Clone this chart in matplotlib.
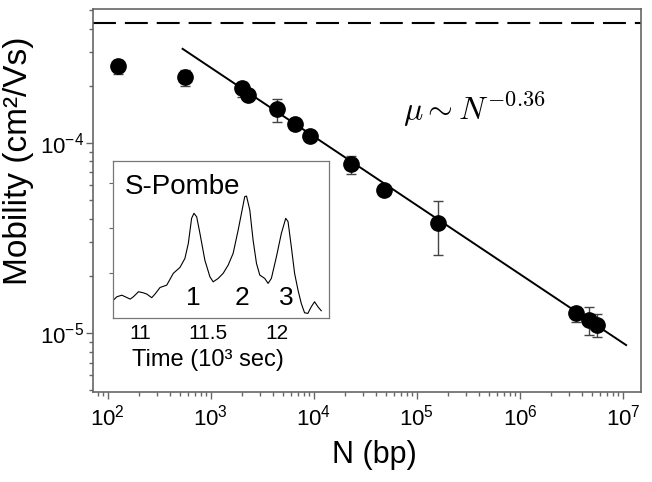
import matplotlib
matplotlib.use('Agg')
from matplotlib import pyplot as plt
from matplotlib.ticker import FixedLocator, NullFormatter, LogLocator

plt.rcParams['font.family'] = ['Liberation Sans', 'DejaVu Sans']
plt.rcParams['mathtext.fontset'] = 'custom'
plt.rcParams['mathtext.rm'] = 'Liberation Sans'
plt.rcParams['mathtext.it'] = 'Liberation Sans:italic'

# mobility data (N in bp, mobility in cm^2/Vs)
N = [125, 557, 2030, 2320, 4350, 6490, 9270, 23100, 48300, 161000, 3.51e6, 4.69e6, 5.6e6]
mu = [2.54e-4, 2.22e-4, 1.95e-4, 1.79e-4, 1.51e-4, 1.26e-4, 1.09e-4, 7.75e-5, 5.66e-5, 3.79e-5, 1.27e-5, 1.17e-5, 1.10e-5]
mu_hi = [2.73e-4, 2.42e-4, 2.09e-4, 1.85e-4, 1.71e-4, 1.29e-4, 1.12e-4, 8.54e-5, 5.85e-5, 4.95e-5, 1.37e-5, 1.37e-5, 1.26e-5]
mu_lo = [2.31e-4, 2.00e-4, 1.75e-4, 1.73e-4, 1.29e-4, 1.23e-4, 1.06e-4, 6.87e-5, 5.48e-5, 2.58e-5, 1.14e-5, 9.76e-6, 9.53e-6]

# power law fit mu ~ N^-0.36 (end points)
fit_N = [533, 1.07e7]
fit_mu = [3.13e-4, 8.65e-6]

# free solution mobility (dashed)
mu_free = 4.3e-4

# inset: S-Pombe electropherogram
t = [10.805, 10.830, 10.866, 10.891, 10.927, 10.951, 10.988, 11.024, 11.049, 11.085,
     11.109, 11.146, 11.195, 11.243, 11.292, 11.328, 11.353, 11.377, 11.394, 11.414,
     11.438, 11.474, 11.511, 11.535, 11.572, 11.608, 11.645, 11.681, 11.718, 11.742,
     11.766, 11.779, 11.803, 11.827, 11.852, 11.876, 11.912, 11.937, 11.961, 11.998,
     12.034, 12.066, 12.083, 12.107, 12.131, 12.156, 12.180, 12.204, 12.228, 12.253,
     12.277, 12.302, 12.326]
sig = [0.115, 0.136, 0.146, 0.136, 0.121, 0.136, 0.168, 0.161, 0.153, 0.130,
       0.153, 0.195, 0.210, 0.285, 0.323, 0.380, 0.476, 0.635, 0.667, 0.645,
       0.539, 0.369, 0.263, 0.231, 0.253, 0.285, 0.338, 0.412, 0.561, 0.667,
       0.773, 0.777, 0.688, 0.497, 0.348, 0.274, 0.253, 0.221, 0.253, 0.391,
       0.539, 0.635, 0.614, 0.454, 0.285, 0.178, 0.093, 0.034, 0.030, 0.072,
       0.104, 0.072, 0.047]
peak_t = [11.387, 11.745, 12.073]
peak_lbl = ['1', '2', '3']

fig = plt.figure(figsize=(6.52, 4.82), dpi=100)
ax = fig.add_axes([0.1426, 0.1867, 0.8405, 0.7946])

errs = [[m - l for m, l in zip(mu, mu_lo)], [h - m for m, h in zip(mu, mu_hi)]]
ax.errorbar(N, mu, yerr=errs, fmt='none', ecolor='#444444', elinewidth=1.0, capsize=3.5, capthick=1.0, zorder=2)
ax.plot(N, mu, 'o', color='black', markersize=11, zorder=3)
ax.plot(fit_N, fit_mu, color='black', lw=1.4, zorder=2)
ax.axhline(mu_free, color='black', lw=1.5, linestyle=(0, (11, 4.3)))

ax.set_xscale('log')
ax.set_yscale('log')
ax.set_xlim(72, 1.49e7)
ax.set_ylim(4.9e-6, 5.07e-4)

xt = [1e2, 1e3, 1e4, 1e5, 1e6, 1e7]
ax.xaxis.set_major_locator(FixedLocator(xt))
ax.set_xticklabels([r'$\mathregular{10^{%d}}$' % e for e in range(2, 8)])
ax.xaxis.set_minor_locator(LogLocator(base=10, subs=range(2, 10), numticks=20))
ax.xaxis.set_minor_formatter(NullFormatter())
yt = [1e-5, 1e-4]
ax.yaxis.set_major_locator(FixedLocator(yt))
ax.set_yticklabels([r'$\mathregular{10^{-5}}$', r'$\mathregular{10^{-4}}$'])
ax.yaxis.set_minor_locator(LogLocator(base=10, subs=range(2, 10), numticks=20))
ax.yaxis.set_minor_formatter(NullFormatter())

for s in ax.spines.values():
    s.set_color('#666666')
    s.set_linewidth(1.2)
ax.tick_params(which='major', length=5, width=1, color='#666666', labelsize=16, pad=4)
ax.tick_params(axis='y', which='major', pad=1.5)
ax.tick_params(which='minor', length=3, width=1, color='#666666')

ax.set_xlabel('N (bp)', fontsize=22, labelpad=6)
ax.xaxis.set_label_coords(0.513, -0.125)
ax.xaxis.label.set_va('top')
ax.set_ylabel('Mobility (cm\u00b2/Vs)', fontsize=24)
ax.yaxis.set_label_coords(-0.108, 0.603)

ax.text(0.566, 0.736, r'$\mu \sim N^{-0.36}$', transform=ax.transAxes, fontsize=23,
        math_fontfamily='cm', va='center', ha='left')

# inset
ins = fig.add_axes([0.173, 0.340, 0.331, 0.326])
ins.plot(t, sig, color='black', lw=0.8)
ins.set_xlim(10.80, 12.38)
ins.set_ylim(0, 1)
ins.set_xticks([11, 11.5, 12])
ins.set_xticklabels(['11', '11.5', '12'])
ins.set_yticks([0.287, 0.573, 0.86])
ins.set_yticklabels([])
ins.tick_params(axis='x', length=0, labelsize=15, pad=4)
ins.tick_params(axis='y', length=3, color='#666666')
for s in ins.spines.values():
    s.set_color('#777777')
    s.set_linewidth(0.9)
ins.set_xlabel('Time (10\u00b3 sec)', fontsize=17, labelpad=2)
ins.xaxis.set_label_coords(0.44, -0.195)
ins.xaxis.label.set_va('top')
ins.text(0.056, 0.834, 'S-Pombe', transform=ins.transAxes, fontsize=20, va='center')
for pt, lb in zip(peak_t, peak_lbl):
    ins.text(pt, 0.127, lb, fontsize=19, ha='center', va='center')

fig.savefig('out.png', dpi=100)
